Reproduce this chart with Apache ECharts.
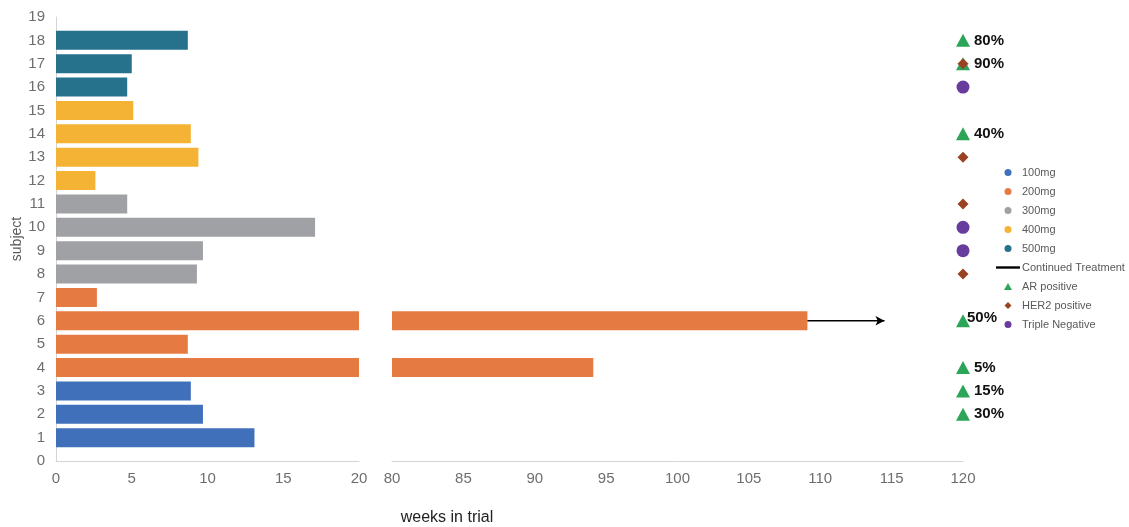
<!DOCTYPE html>
<html>
<head>
<meta charset="utf-8">
<script src="https://cdn.jsdelivr.net/npm/echarts@6/dist/echarts.min.js"></script>
<style>html,body{margin:0;padding:0;background:#fff;}#c{width:1129px;height:527px;}</style>
</head>
<body>
<div id="c"></div>
<script>
// ---- data ----
const yTicks = ['0','1','2','3','4','5','6','7','8','9','10','11','12','13','14','15','16','17','18','19'];
const subjects = [1,2,3,4,5,6,7,8,9,10,11,12,13,14,15,16,17,18];
const weeks = [13.1, 9.7, 8.9, 94.1, 8.7, 109.1, 2.7, 9.3, 9.7, 17.1, 4.7, 2.6, 9.4, 8.9, 5.1, 4.7, 5.0, 8.7];
const doseOf = ['100mg','100mg','100mg','200mg','200mg','200mg','200mg','300mg','300mg','300mg','300mg','400mg','400mg','400mg','400mg','500mg','500mg','500mg'];
const doses = ['100mg','200mg','300mg','400mg','500mg'];
const doseColors = ['#4070BA','#E67A43','#A0A1A4','#F5B335','#26728C'];
const breakLow = 20, breakHigh = 80, axisEnd = 120;
const continuedSubjects = [6];
const continuedEnds = [114.5];
const arSubjects = [18, 17, 14, 6, 4, 3, 2];
const arResponse = ['80%','90%','40%','50%','5%','15%','30%'];
const her2Subjects = [17, 13, 11, 8];
const tnSubjects = [16, 10, 9];

// ---- build ----
function doseSeries(dose, i, grid) {
  const data = yTicks.map(() => null);
  subjects.forEach((s, k) => {
    if (doseOf[k] !== dose) return;
    if (grid === 0) data[s] = Math.min(weeks[k], breakLow);
    else if (weeks[k] > breakHigh) data[s] = weeks[k];
  });
  return {
    name: dose, type: 'bar', xAxisIndex: grid, yAxisIndex: grid,
    data: data, barWidth: 19, barGap: '-100%', clip: true,
    itemStyle: { color: doseColors[i] }, emphasis: { disabled: true }
  };
}
const series = [];
doses.forEach((d, i) => series.push(doseSeries(d, i, 0)));
doses.forEach((d, i) => {
  if (subjects.some((s, k) => doseOf[k] === d && weeks[k] > breakHigh)) series.push(doseSeries(d, i, 1));
});
continuedSubjects.forEach((s, j) => {
  series.push({
    name: 'Continued Treatment', type: 'line', xAxisIndex: 1, yAxisIndex: 1,
    symbol: 'none', showSymbol: true, clip: false,
    lineStyle: { color: '#000', width: 1.5 }, itemStyle: { color: '#000' },
    data: [
      { value: [weeks[s - 1], s], symbol: 'none' },
      { value: [continuedEnds[j], s], symbol: 'arrow', symbolSize: [7, 9], symbolRotate: -90 }
    ]
  });
});
const markerLabel = { show: true, position: 'right', distance: 4, fontSize: 15, fontWeight: 'bold', color: '#111', fontFamily: 'Liberation Sans, sans-serif' };
series.push({
  name: 'AR positive', type: 'scatter', xAxisIndex: 1, yAxisIndex: 1, clip: false,
  symbol: 'triangle', symbolSize: [14, 13], itemStyle: { color: '#2CA558', opacity: 1 },
  data: arSubjects.map((s, k) => ({
    value: [axisEnd, s],
    label: { formatter: arResponse[k], offset: arResponse[k] === '50%' ? [-7, -3] : [0, 0] }
  })),
  label: markerLabel
});
series.push({
  name: 'HER2 positive', type: 'scatter', xAxisIndex: 1, yAxisIndex: 1, clip: false,
  symbol: 'diamond', symbolSize: 11, itemStyle: { color: '#9A4322', opacity: 1 },
  data: her2Subjects.map(s => [axisEnd, s])
});
series.push({
  name: 'Triple Negative', type: 'scatter', xAxisIndex: 1, yAxisIndex: 1, clip: false,
  symbol: 'circle', symbolSize: 13, itemStyle: { color: '#673C9C', opacity: 1 },
  data: tnSubjects.map(s => [axisEnd, s])
});

const axisLine = { show: true, lineStyle: { color: '#D4D4D4', width: 1 } };
const axisLabel = { fontSize: 15, color: '#6E6E6E', fontFamily: 'Liberation Sans, sans-serif' };

const option = {
  animation: false,
  grid: [
    { left: 56, top: 17, width: 303, height: 444 },
    { left: 392, top: 17, width: 571, height: 444 }
  ],
  xAxis: [
    { type: 'value', gridIndex: 0, min: 0, max: breakLow, interval: 5, axisLine, axisTick: { show: false }, splitLine: { show: false }, axisLabel: Object.assign({ margin: 10 }, axisLabel) },
    { type: 'value', gridIndex: 1, min: breakHigh, max: axisEnd, interval: 5, axisLine, axisTick: { show: false }, splitLine: { show: false }, axisLabel: Object.assign({ margin: 10 }, axisLabel) }
  ],
  yAxis: [
    { type: 'category', gridIndex: 0, data: yTicks, boundaryGap: false, axisLine, axisTick: { show: false },
      axisLabel: Object.assign({ margin: 11, interval: 0 }, axisLabel),
      name: 'subject', nameLocation: 'middle', nameGap: 32, nameRotate: 90,
      nameTextStyle: { fontSize: 14, color: '#595959', fontFamily: 'Liberation Sans, sans-serif' } },
    { type: 'category', gridIndex: 1, data: yTicks, boundaryGap: false, show: false }
  ],
  legend: {
    orient: 'vertical', left: 991, top: 162, itemWidth: 24, itemHeight: 7, itemGap: 8,
    selectedMode: false,
    textStyle: { fontSize: 11, color: '#595959', fontFamily: 'Liberation Sans, sans-serif', padding: [0,0,0,-3] },
    data: [
      { name: '100mg', icon: 'circle' }, { name: '200mg', icon: 'circle' }, { name: '300mg', icon: 'circle' },
      { name: '400mg', icon: 'circle' }, { name: '500mg', icon: 'circle' },
      { name: 'Continued Treatment', icon: 'path://M0,0 L24,0 L24,2.4 L0,2.4 Z' },
      { name: 'AR positive', icon: 'path://M4,0 L8,7 L0,7 Z' },
      { name: 'HER2 positive', icon: 'path://M4,0 L8,4 L4,8 L0,4 Z' },
      { name: 'Triple Negative', icon: 'circle' }
    ]
  },
  graphic: [
    { type: 'text', x: 447, y: 518, style: { text: 'weeks in trial', fill: '#222', font: '16px "Liberation Sans", sans-serif', align: 'center', verticalAlign: 'middle' } }
  ],
  series: series
};
const chart = echarts.init(document.getElementById('c'), null, { renderer: 'canvas' });
chart.setOption(option);
</script>
</body>
</html>
